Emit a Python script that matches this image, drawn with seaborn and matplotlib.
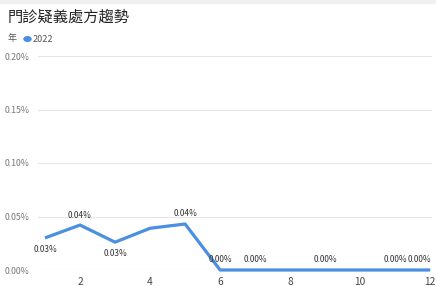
import pandas as pd
import matplotlib.pyplot as plt
import seaborn as sns
from matplotlib.patches import Rectangle

# data (percent)
months = [1, 2, 3, 4, 5, 6, 7, 8, 9, 10, 11, 12]
rate_2022 = [0.030, 0.042, 0.026, 0.039, 0.043, 0, 0, 0, 0, 0, 0, 0]
label_months = [1, 2, 3, 5, 6, 7, 9, 11, 12]
label_above = [False, True, False, True, True, True, True, True, True]
y_ticks = [0, 0.05, 0.10, 0.15, 0.20]
x_ticks = [2, 4, 6, 8, 10, 12]

df = pd.DataFrame({'month': months, 'rate': rate_2022})

sns.set_style("white")
plt.rcParams['font.family'] = ['Noto Sans CJK TC', 'DejaVu Sans']

fig = plt.figure(figsize=(4.36, 2.86), dpi=100)
ax = fig.add_axes([38 / 436, 16 / 286, 394 / 436, 214 / 286])

line_color = '#4a8fe0'
sns.lineplot(data=df, x='month', y='rate', ax=ax, color=line_color, linewidth=2.3,
             clip_on=False, solid_capstyle='butt')

for m, above in zip(label_months, label_above):
    v = rate_2022[m - 1]
    dx = -8 if m == 12 else 0
    if above:
        ax.annotate(f'{v:.2f}%', (m, v), xytext=(dx, 4), textcoords='offset points',
                    ha='center', va='bottom', fontsize=6, color='#333333')
    else:
        ax.annotate(f'{v:.2f}%', (m, v), xytext=(dx, -5), textcoords='offset points',
                    ha='center', va='top', fontsize=6, color='#333333')

ax.set_xlim(0.8, 12.05)
ax.set_ylim(0, 0.2)
ax.set_yticks(y_ticks)
ax.set_yticklabels([f'{t:.2f}%' for t in y_ticks])
ax.set_xticks(x_ticks)
ax.set_xticklabels([str(t) for t in x_ticks])
ax.grid(axis='y', color='#e6e6e6', linewidth=0.8)
ax.grid(axis='x', visible=False)
ax.tick_params(axis='y', labelsize=6.3, colors='#777777', length=0, pad=6)
ax.tick_params(axis='x', labelsize=7.3, colors='#444444', length=0, pad=5)
ax.set_xlabel('')
ax.set_ylabel('')
sns.despine(ax=ax, left=True, bottom=True, top=True, right=True)

fig.text(8 / 436, 1 - 17 / 286, '門診疑義處方趨勢', fontsize=11, color='#252423',
         va='center', ha='left')
fig.text(8 / 436, 1 - 39 / 286, '年', fontsize=6.5, color='#555555', va='center', ha='left')
fig.patches.append(plt.Circle((27.5 / 436, 1 - 39 / 286), 3.5 / 436, transform=fig.transFigure,
                              color=line_color, figure=fig))
fig.text(33 / 436, 1 - 39 / 286, '2022', fontsize=6.5, color='#555555', va='center', ha='left')
fig.patches.append(Rectangle((0, 1 - 3 / 286), 1, 3 / 286, transform=fig.transFigure,
                             color='#f0f0f0', figure=fig))

fig.savefig('out.png', dpi=100)
